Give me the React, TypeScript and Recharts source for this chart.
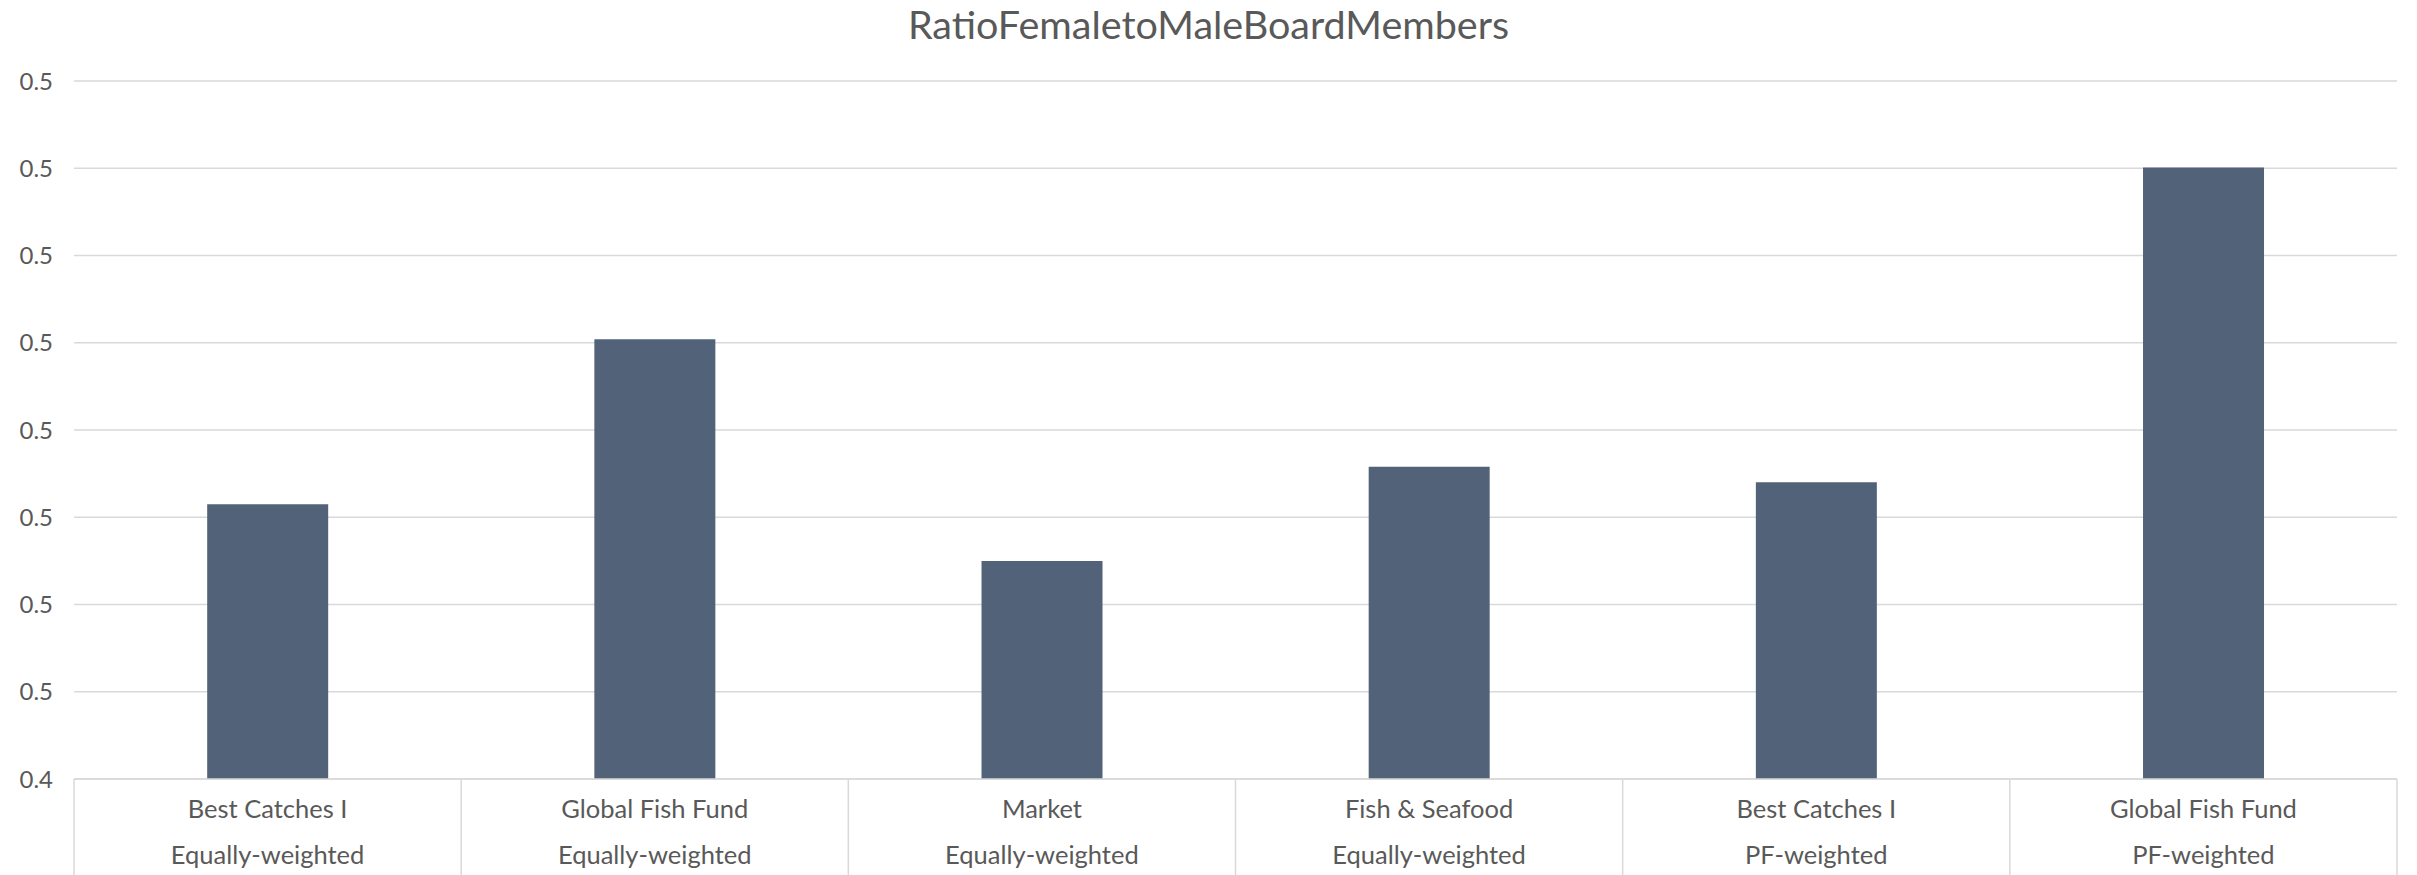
import { Bar, BarChart, CartesianGrid, XAxis, YAxis } from "recharts";

const FUNDS = [
  "Best Catches I",
  "Global Fish Fund",
  "Market",
  "Fish & Seafood",
  "Best Catches I",
  "Global Fish Fund",
];
const WEIGHTINGS = [
  "Equally-weighted",
  "Equally-weighted",
  "Equally-weighted",
  "Equally-weighted",
  "PF-weighted",
  "PF-weighted",
];
const RATIOS = [0.4765, 0.4954, 0.47, 0.4808, 0.479, 0.5151];
const Y_TICKS = [0.445, 0.455, 0.465, 0.475, 0.485, 0.495, 0.505, 0.515, 0.525];

const BAR = "#526379";
const GRID = "#D9D9D9";
const INK = "#595959";
const FONT = "Lato, 'Open Sans', sans-serif";

const data = FUNDS.map((fund, i) => ({
  key: `${fund}|${WEIGHTINGS[i]}`,
  fund,
  weighting: WEIGHTINGS[i],
  ratio: RATIOS[i],
}));

function CategoryTick(props: any) {
  const { x, y, payload, index, width } = props;
  const half = payload?.offset || width / data.length / 2;
  const row = data[index];
  return (
    <g>
      <line x1={x - half} x2={x - half} y1={y} y2={875} stroke={GRID} strokeWidth={1.5} />
      {index === data.length - 1 && (
        <line x1={x + half} x2={x + half} y1={y} y2={875} stroke={GRID} strokeWidth={1.5} />
      )}
      <text x={x} y={y + 30} dy="0.35em" textAnchor="middle" fill={INK} fontSize={25.5} fontFamily={FONT}>
        {row?.fund}
      </text>
      <text x={x} y={y + 76} dy="0.35em" textAnchor="middle" fill={INK} fontSize={25.5} fontFamily={FONT}>
        {row?.weighting}
      </text>
    </g>
  );
}

export default function App() {
  return (
    <div style={{ position: "relative", width: 2417, height: 875, background: "#fff", fontFamily: FONT }}>
      <style>{"body{margin:0}"}</style>
      <div
        style={{
          position: "absolute",
          top: 3,
          left: 0,
          width: 2417,
          textAlign: "center",
          fontSize: 39.5,
          lineHeight: "42px",
          color: INK,
        }}
      >
        RatioFemaletoMaleBoardMembers
      </div>
      <BarChart
        width={2417}
        height={875}
        data={data}
        margin={{ top: 81, right: 20, left: 0, bottom: 0 }}
        barCategoryGap="34.4%"
      >
        <CartesianGrid stroke={GRID} strokeWidth={1.5} vertical={false} />
        <XAxis
          dataKey="key"
          height={96}
          tickSize={0}
          tickMargin={0}
          interval={0}
          axisLine={{ stroke: GRID, strokeWidth: 1.5 }}
          tickLine={false}
          tick={<CategoryTick />}
        />
        <YAxis
          type="number"
          domain={[0.445, 0.525]}
          ticks={Y_TICKS}
          width={74}
          tickSize={0}
          tickMargin={21}
          axisLine={false}
          tickLine={false}
          tick={{ fill: INK, fontSize: 24, fontFamily: FONT }}
          tickFormatter={(v: number) => v.toFixed(1)}
        />
        <Bar dataKey="ratio" fill={BAR} isAnimationActive={false} />
      </BarChart>
    </div>
  );
}
